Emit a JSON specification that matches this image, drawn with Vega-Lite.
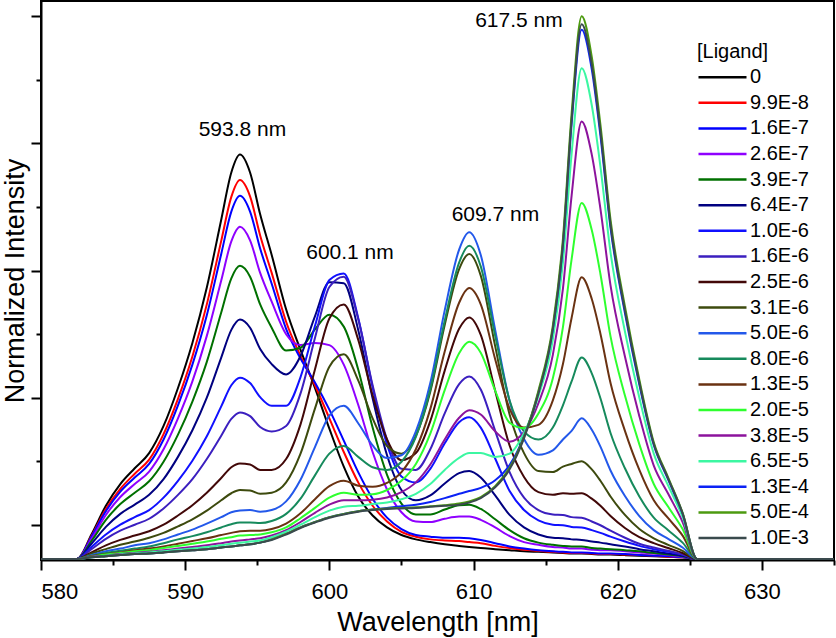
{
  "$schema": "https://vega.github.io/schema/vega-lite/v6.json",
  "width": 793,
  "height": 559,
  "autosize": {"type": "none"},
  "padding": {"left": 41, "top": 1, "right": 2, "bottom": 78},
  "background": "white",
  "config": {
    "font": "Liberation Sans",
    "view": {"stroke": "black", "strokeWidth": 2},
    "axis": {"grid": false, "domainColor": "black", "domainWidth": 2, "tickColor": "black", "tickWidth": 2, "labelColor": "black", "titleColor": "black", "titleFontWeight": "normal"}
  },
  "datasets": {
    "spectra": [
      {"L":"0","nm":580,"v":0},{"L":"0","nm":582.5,"v":0},{"L":"0","nm":583.5,"v":0.045},{"L":"0","nm":584.5,"v":0.098},{"L":"0","nm":585.5,"v":0.138},{"L":"0","nm":586.5,"v":0.167},{"L":"0","nm":587.5,"v":0.195},{"L":"0","nm":588.5,"v":0.245},{"L":"0","nm":589.5,"v":0.315},{"L":"0","nm":590.5,"v":0.398},{"L":"0","nm":591.5,"v":0.5},{"L":"0","nm":592.5,"v":0.625},{"L":"0","nm":593.2,"v":0.712},{"L":"0","nm":593.8,"v":0.745},{"L":"0","nm":594.5,"v":0.712},{"L":"0","nm":595.2,"v":0.635},{"L":"0","nm":596,"v":0.56},{"L":"0","nm":597,"v":0.46},{"L":"0","nm":598,"v":0.385},{"L":"0","nm":599,"v":0.315},{"L":"0","nm":600,"v":0.24},{"L":"0","nm":601,"v":0.17},{"L":"0","nm":602,"v":0.115},{"L":"0","nm":603,"v":0.08},{"L":"0","nm":604,"v":0.058},{"L":"0","nm":605,"v":0.044},{"L":"0","nm":606,"v":0.036},{"L":"0","nm":607,"v":0.031},{"L":"0","nm":608,"v":0.027},{"L":"0","nm":609,"v":0.024},{"L":"0","nm":609.7,"v":0.022},{"L":"0","nm":610.5,"v":0.02},{"L":"0","nm":611.5,"v":0.018},{"L":"0","nm":612.5,"v":0.016},{"L":"0","nm":613.5,"v":0.014},{"L":"0","nm":614.5,"v":0.013},{"L":"0","nm":615.5,"v":0.012},{"L":"0","nm":616.2,"v":0.011},{"L":"0","nm":616.8,"v":0.01},{"L":"0","nm":617.5,"v":0.01},{"L":"0","nm":618.2,"v":0.009},{"L":"0","nm":618.8,"v":0.008},{"L":"0","nm":619.5,"v":0.008},{"L":"0","nm":620.5,"v":0.007},{"L":"0","nm":621.5,"v":0.006},{"L":"0","nm":622.5,"v":0.005},{"L":"0","nm":623.5,"v":0.004},{"L":"0","nm":624.5,"v":0.003},{"L":"0","nm":625.5,"v":0},{"L":"0","nm":635,"v":0},

      {"L":"9.9E-8","nm":580,"v":0},{"L":"9.9E-8","nm":582.5,"v":0},{"L":"9.9E-8","nm":583.5,"v":0.042},{"L":"9.9E-8","nm":584.5,"v":0.092},{"L":"9.9E-8","nm":585.5,"v":0.129},{"L":"9.9E-8","nm":586.5,"v":0.157},{"L":"9.9E-8","nm":587.5,"v":0.183},{"L":"9.9E-8","nm":588.5,"v":0.23},{"L":"9.9E-8","nm":589.5,"v":0.295},{"L":"9.9E-8","nm":590.5,"v":0.373},{"L":"9.9E-8","nm":591.5,"v":0.469},{"L":"9.9E-8","nm":592.5,"v":0.586},{"L":"9.9E-8","nm":593.2,"v":0.667},{"L":"9.9E-8","nm":593.8,"v":0.698},{"L":"9.9E-8","nm":594.5,"v":0.668},{"L":"9.9E-8","nm":595.2,"v":0.596},{"L":"9.9E-8","nm":596,"v":0.527},{"L":"9.9E-8","nm":597,"v":0.437},{"L":"9.9E-8","nm":598,"v":0.374},{"L":"9.9E-8","nm":599,"v":0.32},{"L":"9.9E-8","nm":600,"v":0.259},{"L":"9.9E-8","nm":601,"v":0.197},{"L":"9.9E-8","nm":602,"v":0.141},{"L":"9.9E-8","nm":603,"v":0.098},{"L":"9.9E-8","nm":604,"v":0.069},{"L":"9.9E-8","nm":605,"v":0.05},{"L":"9.9E-8","nm":606,"v":0.041},{"L":"9.9E-8","nm":607,"v":0.036},{"L":"9.9E-8","nm":608,"v":0.034},{"L":"9.9E-8","nm":609,"v":0.033},{"L":"9.9E-8","nm":609.7,"v":0.031},{"L":"9.9E-8","nm":610.5,"v":0.029},{"L":"9.9E-8","nm":611.5,"v":0.024},{"L":"9.9E-8","nm":612.5,"v":0.02},{"L":"9.9E-8","nm":613.5,"v":0.017},{"L":"9.9E-8","nm":614.5,"v":0.015},{"L":"9.9E-8","nm":615.5,"v":0.013},{"L":"9.9E-8","nm":616.2,"v":0.012},{"L":"9.9E-8","nm":616.8,"v":0.011},{"L":"9.9E-8","nm":617.5,"v":0.011},{"L":"9.9E-8","nm":618.2,"v":0.01},{"L":"9.9E-8","nm":618.8,"v":0.009},{"L":"9.9E-8","nm":619.5,"v":0.009},{"L":"9.9E-8","nm":620.5,"v":0.008},{"L":"9.9E-8","nm":621.5,"v":0.007},{"L":"9.9E-8","nm":622.5,"v":0.006},{"L":"9.9E-8","nm":623.5,"v":0.004},{"L":"9.9E-8","nm":624.5,"v":0.003},{"L":"9.9E-8","nm":625.5,"v":0},{"L":"9.9E-8","nm":635,"v":0},

      {"L":"1.6E-7","nm":580,"v":0},{"L":"1.6E-7","nm":582.5,"v":0},{"L":"1.6E-7","nm":583.5,"v":0.041},{"L":"1.6E-7","nm":584.5,"v":0.088},{"L":"1.6E-7","nm":585.5,"v":0.124},{"L":"1.6E-7","nm":586.5,"v":0.15},{"L":"1.6E-7","nm":587.5,"v":0.175},{"L":"1.6E-7","nm":588.5,"v":0.22},{"L":"1.6E-7","nm":589.5,"v":0.283},{"L":"1.6E-7","nm":590.5,"v":0.358},{"L":"1.6E-7","nm":591.5,"v":0.449},{"L":"1.6E-7","nm":592.5,"v":0.562},{"L":"1.6E-7","nm":593.2,"v":0.64},{"L":"1.6E-7","nm":593.8,"v":0.669},{"L":"1.6E-7","nm":594.5,"v":0.64},{"L":"1.6E-7","nm":595.2,"v":0.572},{"L":"1.6E-7","nm":596,"v":0.507},{"L":"1.6E-7","nm":597,"v":0.424},{"L":"1.6E-7","nm":598,"v":0.369},{"L":"1.6E-7","nm":599,"v":0.325},{"L":"1.6E-7","nm":600,"v":0.275},{"L":"1.6E-7","nm":601,"v":0.218},{"L":"1.6E-7","nm":602,"v":0.16},{"L":"1.6E-7","nm":603,"v":0.111},{"L":"1.6E-7","nm":604,"v":0.076},{"L":"1.6E-7","nm":605,"v":0.055},{"L":"1.6E-7","nm":606,"v":0.044},{"L":"1.6E-7","nm":607,"v":0.041},{"L":"1.6E-7","nm":608,"v":0.039},{"L":"1.6E-7","nm":609,"v":0.039},{"L":"1.6E-7","nm":609.7,"v":0.038},{"L":"1.6E-7","nm":610.5,"v":0.035},{"L":"1.6E-7","nm":611.5,"v":0.029},{"L":"1.6E-7","nm":612.5,"v":0.023},{"L":"1.6E-7","nm":613.5,"v":0.019},{"L":"1.6E-7","nm":614.5,"v":0.016},{"L":"1.6E-7","nm":615.5,"v":0.014},{"L":"1.6E-7","nm":616.2,"v":0.013},{"L":"1.6E-7","nm":616.8,"v":0.012},{"L":"1.6E-7","nm":617.5,"v":0.012},{"L":"1.6E-7","nm":618.2,"v":0.011},{"L":"1.6E-7","nm":618.8,"v":0.01},{"L":"1.6E-7","nm":619.5,"v":0.01},{"L":"1.6E-7","nm":620.5,"v":0.009},{"L":"1.6E-7","nm":621.5,"v":0.007},{"L":"1.6E-7","nm":622.5,"v":0.006},{"L":"1.6E-7","nm":623.5,"v":0.005},{"L":"1.6E-7","nm":624.5,"v":0.003},{"L":"1.6E-7","nm":625.5,"v":0},{"L":"1.6E-7","nm":635,"v":0},

      {"L":"2.6E-7","nm":580,"v":0},{"L":"2.6E-7","nm":582.5,"v":0},{"L":"2.6E-7","nm":583.5,"v":0.037},{"L":"2.6E-7","nm":584.5,"v":0.081},{"L":"2.6E-7","nm":585.5,"v":0.114},{"L":"2.6E-7","nm":586.5,"v":0.138},{"L":"2.6E-7","nm":587.5,"v":0.161},{"L":"2.6E-7","nm":588.5,"v":0.202},{"L":"2.6E-7","nm":589.5,"v":0.259},{"L":"2.6E-7","nm":590.5,"v":0.327},{"L":"2.6E-7","nm":591.5,"v":0.411},{"L":"2.6E-7","nm":592.5,"v":0.513},{"L":"2.6E-7","nm":593.2,"v":0.585},{"L":"2.6E-7","nm":593.8,"v":0.612},{"L":"2.6E-7","nm":594.5,"v":0.587},{"L":"2.6E-7","nm":595.2,"v":0.527},{"L":"2.6E-7","nm":596,"v":0.474},{"L":"2.6E-7","nm":597,"v":0.414},{"L":"2.6E-7","nm":598,"v":0.394},{"L":"2.6E-7","nm":599,"v":0.398},{"L":"2.6E-7","nm":600,"v":0.394},{"L":"2.6E-7","nm":601,"v":0.358},{"L":"2.6E-7","nm":602,"v":0.284},{"L":"2.6E-7","nm":603,"v":0.197},{"L":"2.6E-7","nm":604,"v":0.128},{"L":"2.6E-7","nm":605,"v":0.086},{"L":"2.6E-7","nm":606,"v":0.069},{"L":"2.6E-7","nm":607,"v":0.068},{"L":"2.6E-7","nm":608,"v":0.074},{"L":"2.6E-7","nm":609,"v":0.078},{"L":"2.6E-7","nm":609.7,"v":0.078},{"L":"2.6E-7","nm":610.5,"v":0.072},{"L":"2.6E-7","nm":611.5,"v":0.058},{"L":"2.6E-7","nm":612.5,"v":0.042},{"L":"2.6E-7","nm":613.5,"v":0.031},{"L":"2.6E-7","nm":614.5,"v":0.026},{"L":"2.6E-7","nm":615.5,"v":0.022},{"L":"2.6E-7","nm":616.2,"v":0.021},{"L":"2.6E-7","nm":616.8,"v":0.019},{"L":"2.6E-7","nm":617.5,"v":0.019},{"L":"2.6E-7","nm":618.2,"v":0.017},{"L":"2.6E-7","nm":618.8,"v":0.016},{"L":"2.6E-7","nm":619.5,"v":0.016},{"L":"2.6E-7","nm":620.5,"v":0.014},{"L":"2.6E-7","nm":621.5,"v":0.012},{"L":"2.6E-7","nm":622.5,"v":0.01},{"L":"2.6E-7","nm":623.5,"v":0.007},{"L":"2.6E-7","nm":624.5,"v":0.004},{"L":"2.6E-7","nm":625.5,"v":0},{"L":"2.6E-7","nm":635,"v":0},

      {"L":"3.9E-7","nm":580,"v":0},{"L":"3.9E-7","nm":582.5,"v":0},{"L":"3.9E-7","nm":583.5,"v":0.033},{"L":"3.9E-7","nm":584.5,"v":0.072},{"L":"3.9E-7","nm":585.5,"v":0.101},{"L":"3.9E-7","nm":586.5,"v":0.122},{"L":"3.9E-7","nm":587.5,"v":0.143},{"L":"3.9E-7","nm":588.5,"v":0.179},{"L":"3.9E-7","nm":589.5,"v":0.229},{"L":"3.9E-7","nm":590.5,"v":0.29},{"L":"3.9E-7","nm":591.5,"v":0.363},{"L":"3.9E-7","nm":592.5,"v":0.454},{"L":"3.9E-7","nm":593.2,"v":0.517},{"L":"3.9E-7","nm":593.8,"v":0.54},{"L":"3.9E-7","nm":594.5,"v":0.52},{"L":"3.9E-7","nm":595.2,"v":0.469},{"L":"3.9E-7","nm":596,"v":0.426},{"L":"3.9E-7","nm":597,"v":0.384},{"L":"3.9E-7","nm":598,"v":0.389},{"L":"3.9E-7","nm":599,"v":0.423},{"L":"3.9E-7","nm":600,"v":0.45},{"L":"3.9E-7","nm":601,"v":0.428},{"L":"3.9E-7","nm":602,"v":0.349},{"L":"3.9E-7","nm":603,"v":0.242},{"L":"3.9E-7","nm":604,"v":0.155},{"L":"3.9E-7","nm":605,"v":0.102},{"L":"3.9E-7","nm":606,"v":0.082},{"L":"3.9E-7","nm":607,"v":0.082},{"L":"3.9E-7","nm":608,"v":0.091},{"L":"3.9E-7","nm":609,"v":0.099},{"L":"3.9E-7","nm":609.7,"v":0.1},{"L":"3.9E-7","nm":610.5,"v":0.092},{"L":"3.9E-7","nm":611.5,"v":0.073},{"L":"3.9E-7","nm":612.5,"v":0.053},{"L":"3.9E-7","nm":613.5,"v":0.038},{"L":"3.9E-7","nm":614.5,"v":0.03},{"L":"3.9E-7","nm":615.5,"v":0.026},{"L":"3.9E-7","nm":616.2,"v":0.024},{"L":"3.9E-7","nm":616.8,"v":0.023},{"L":"3.9E-7","nm":617.5,"v":0.023},{"L":"3.9E-7","nm":618.2,"v":0.02},{"L":"3.9E-7","nm":618.8,"v":0.019},{"L":"3.9E-7","nm":619.5,"v":0.018},{"L":"3.9E-7","nm":620.5,"v":0.016},{"L":"3.9E-7","nm":621.5,"v":0.014},{"L":"3.9E-7","nm":622.5,"v":0.011},{"L":"3.9E-7","nm":623.5,"v":0.008},{"L":"3.9E-7","nm":624.5,"v":0.005},{"L":"3.9E-7","nm":625.5,"v":0},{"L":"3.9E-7","nm":635,"v":0},

      {"L":"6.4E-7","nm":580,"v":0},{"L":"6.4E-7","nm":582.5,"v":0},{"L":"6.4E-7","nm":583.5,"v":0.028},{"L":"6.4E-7","nm":584.5,"v":0.059},{"L":"6.4E-7","nm":585.5,"v":0.083},{"L":"6.4E-7","nm":586.5,"v":0.1},{"L":"6.4E-7","nm":587.5,"v":0.118},{"L":"6.4E-7","nm":588.5,"v":0.147},{"L":"6.4E-7","nm":589.5,"v":0.188},{"L":"6.4E-7","nm":590.5,"v":0.237},{"L":"6.4E-7","nm":591.5,"v":0.297},{"L":"6.4E-7","nm":592.5,"v":0.371},{"L":"6.4E-7","nm":593.2,"v":0.422},{"L":"6.4E-7","nm":593.8,"v":0.441},{"L":"6.4E-7","nm":594.5,"v":0.426},{"L":"6.4E-7","nm":595.2,"v":0.387},{"L":"6.4E-7","nm":596,"v":0.359},{"L":"6.4E-7","nm":597,"v":0.34},{"L":"6.4E-7","nm":598,"v":0.374},{"L":"6.4E-7","nm":599,"v":0.447},{"L":"6.4E-7","nm":600,"v":0.51},{"L":"6.4E-7","nm":601,"v":0.508},{"L":"6.4E-7","nm":602,"v":0.422},{"L":"6.4E-7","nm":603,"v":0.296},{"L":"6.4E-7","nm":604,"v":0.191},{"L":"6.4E-7","nm":605,"v":0.127},{"L":"6.4E-7","nm":606,"v":0.108},{"L":"6.4E-7","nm":607,"v":0.117},{"L":"6.4E-7","nm":608,"v":0.139},{"L":"6.4E-7","nm":609,"v":0.158},{"L":"6.4E-7","nm":609.7,"v":0.162},{"L":"6.4E-7","nm":610.5,"v":0.15},{"L":"6.4E-7","nm":611.5,"v":0.117},{"L":"6.4E-7","nm":612.5,"v":0.081},{"L":"6.4E-7","nm":613.5,"v":0.058},{"L":"6.4E-7","nm":614.5,"v":0.045},{"L":"6.4E-7","nm":615.5,"v":0.039},{"L":"6.4E-7","nm":616.2,"v":0.038},{"L":"6.4E-7","nm":616.8,"v":0.036},{"L":"6.4E-7","nm":617.5,"v":0.035},{"L":"6.4E-7","nm":618.2,"v":0.032},{"L":"6.4E-7","nm":618.8,"v":0.03},{"L":"6.4E-7","nm":619.5,"v":0.027},{"L":"6.4E-7","nm":620.5,"v":0.023},{"L":"6.4E-7","nm":621.5,"v":0.018},{"L":"6.4E-7","nm":622.5,"v":0.014},{"L":"6.4E-7","nm":623.5,"v":0.01},{"L":"6.4E-7","nm":624.5,"v":0.006},{"L":"6.4E-7","nm":625.5,"v":0},{"L":"6.4E-7","nm":635,"v":0},

      {"L":"1.0E-6","nm":580,"v":0},{"L":"1.0E-6","nm":582.5,"v":0},{"L":"1.0E-6","nm":583.5,"v":0.022},{"L":"1.0E-6","nm":584.5,"v":0.045},{"L":"1.0E-6","nm":585.5,"v":0.063},{"L":"1.0E-6","nm":586.5,"v":0.077},{"L":"1.0E-6","nm":587.5,"v":0.09},{"L":"1.0E-6","nm":588.5,"v":0.113},{"L":"1.0E-6","nm":589.5,"v":0.144},{"L":"1.0E-6","nm":590.5,"v":0.181},{"L":"1.0E-6","nm":591.5,"v":0.226},{"L":"1.0E-6","nm":592.5,"v":0.281},{"L":"1.0E-6","nm":593.2,"v":0.32},{"L":"1.0E-6","nm":593.8,"v":0.334},{"L":"1.0E-6","nm":594.5,"v":0.324},{"L":"1.0E-6","nm":595.2,"v":0.298},{"L":"1.0E-6","nm":596,"v":0.282},{"L":"1.0E-6","nm":597,"v":0.282},{"L":"1.0E-6","nm":598,"v":0.335},{"L":"1.0E-6","nm":599,"v":0.429},{"L":"1.0E-6","nm":600,"v":0.514},{"L":"1.0E-6","nm":601,"v":0.526},{"L":"1.0E-6","nm":602,"v":0.444},{"L":"1.0E-6","nm":603,"v":0.316},{"L":"1.0E-6","nm":604,"v":0.211},{"L":"1.0E-6","nm":605,"v":0.152},{"L":"1.0E-6","nm":606,"v":0.141},{"L":"1.0E-6","nm":607,"v":0.166},{"L":"1.0E-6","nm":608,"v":0.213},{"L":"1.0E-6","nm":609,"v":0.252},{"L":"1.0E-6","nm":609.7,"v":0.261},{"L":"1.0E-6","nm":610.5,"v":0.242},{"L":"1.0E-6","nm":611.5,"v":0.185},{"L":"1.0E-6","nm":612.5,"v":0.125},{"L":"1.0E-6","nm":613.5,"v":0.09},{"L":"1.0E-6","nm":614.5,"v":0.071},{"L":"1.0E-6","nm":615.5,"v":0.063},{"L":"1.0E-6","nm":616.2,"v":0.062},{"L":"1.0E-6","nm":616.8,"v":0.059},{"L":"1.0E-6","nm":617.5,"v":0.058},{"L":"1.0E-6","nm":618.2,"v":0.053},{"L":"1.0E-6","nm":618.8,"v":0.048},{"L":"1.0E-6","nm":619.5,"v":0.041},{"L":"1.0E-6","nm":620.5,"v":0.032},{"L":"1.0E-6","nm":621.5,"v":0.024},{"L":"1.0E-6","nm":622.5,"v":0.018},{"L":"1.0E-6","nm":623.5,"v":0.013},{"L":"1.0E-6","nm":624.5,"v":0.008},{"L":"1.0E-6","nm":625.5,"v":0},{"L":"1.0E-6","nm":635,"v":0},

      {"L":"1.6E-6","nm":580,"v":0},{"L":"1.6E-6","nm":582.5,"v":0},{"L":"1.6E-6","nm":583.5,"v":0.018},{"L":"1.6E-6","nm":584.5,"v":0.037},{"L":"1.6E-6","nm":585.5,"v":0.052},{"L":"1.6E-6","nm":586.5,"v":0.063},{"L":"1.6E-6","nm":587.5,"v":0.074},{"L":"1.6E-6","nm":588.5,"v":0.093},{"L":"1.6E-6","nm":589.5,"v":0.118},{"L":"1.6E-6","nm":590.5,"v":0.147},{"L":"1.6E-6","nm":591.5,"v":0.184},{"L":"1.6E-6","nm":592.5,"v":0.227},{"L":"1.6E-6","nm":593.2,"v":0.258},{"L":"1.6E-6","nm":593.8,"v":0.27},{"L":"1.6E-6","nm":594.5,"v":0.263},{"L":"1.6E-6","nm":595.2,"v":0.243},{"L":"1.6E-6","nm":596,"v":0.235},{"L":"1.6E-6","nm":597,"v":0.245},{"L":"1.6E-6","nm":598,"v":0.305},{"L":"1.6E-6","nm":599,"v":0.407},{"L":"1.6E-6","nm":600,"v":0.501},{"L":"1.6E-6","nm":601,"v":0.52},{"L":"1.6E-6","nm":602,"v":0.442},{"L":"1.6E-6","nm":603,"v":0.32},{"L":"1.6E-6","nm":604,"v":0.22},{"L":"1.6E-6","nm":605,"v":0.166},{"L":"1.6E-6","nm":606,"v":0.164},{"L":"1.6E-6","nm":607,"v":0.202},{"L":"1.6E-6","nm":608,"v":0.268},{"L":"1.6E-6","nm":609,"v":0.322},{"L":"1.6E-6","nm":609.7,"v":0.336},{"L":"1.6E-6","nm":610.5,"v":0.312},{"L":"1.6E-6","nm":611.5,"v":0.236},{"L":"1.6E-6","nm":612.5,"v":0.16},{"L":"1.6E-6","nm":613.5,"v":0.113},{"L":"1.6E-6","nm":614.5,"v":0.09},{"L":"1.6E-6","nm":615.5,"v":0.082},{"L":"1.6E-6","nm":616.2,"v":0.081},{"L":"1.6E-6","nm":616.8,"v":0.077},{"L":"1.6E-6","nm":617.5,"v":0.076},{"L":"1.6E-6","nm":618.2,"v":0.069},{"L":"1.6E-6","nm":618.8,"v":0.062},{"L":"1.6E-6","nm":619.5,"v":0.052},{"L":"1.6E-6","nm":620.5,"v":0.039},{"L":"1.6E-6","nm":621.5,"v":0.028},{"L":"1.6E-6","nm":622.5,"v":0.021},{"L":"1.6E-6","nm":623.5,"v":0.015},{"L":"1.6E-6","nm":624.5,"v":0.008},{"L":"1.6E-6","nm":625.5,"v":0},{"L":"1.6E-6","nm":635,"v":0},

      {"L":"2.5E-6","nm":580,"v":0},{"L":"2.5E-6","nm":582.5,"v":0},{"L":"2.5E-6","nm":583.5,"v":0.012},{"L":"2.5E-6","nm":584.5,"v":0.025},{"L":"2.5E-6","nm":585.5,"v":0.035},{"L":"2.5E-6","nm":586.5,"v":0.043},{"L":"2.5E-6","nm":587.5,"v":0.051},{"L":"2.5E-6","nm":588.5,"v":0.063},{"L":"2.5E-6","nm":589.5,"v":0.08},{"L":"2.5E-6","nm":590.5,"v":0.099},{"L":"2.5E-6","nm":591.5,"v":0.122},{"L":"2.5E-6","nm":592.5,"v":0.149},{"L":"2.5E-6","nm":593.2,"v":0.169},{"L":"2.5E-6","nm":593.8,"v":0.176},{"L":"2.5E-6","nm":594.5,"v":0.174},{"L":"2.5E-6","nm":595.2,"v":0.164},{"L":"2.5E-6","nm":596,"v":0.164},{"L":"2.5E-6","nm":597,"v":0.184},{"L":"2.5E-6","nm":598,"v":0.248},{"L":"2.5E-6","nm":599,"v":0.349},{"L":"2.5E-6","nm":600,"v":0.443},{"L":"2.5E-6","nm":601,"v":0.469},{"L":"2.5E-6","nm":602,"v":0.404},{"L":"2.5E-6","nm":603,"v":0.301},{"L":"2.5E-6","nm":604,"v":0.22},{"L":"2.5E-6","nm":605,"v":0.182},{"L":"2.5E-6","nm":606,"v":0.195},{"L":"2.5E-6","nm":607,"v":0.254},{"L":"2.5E-6","nm":608,"v":0.347},{"L":"2.5E-6","nm":609,"v":0.424},{"L":"2.5E-6","nm":609.7,"v":0.445},{"L":"2.5E-6","nm":610.5,"v":0.413},{"L":"2.5E-6","nm":611.5,"v":0.31},{"L":"2.5E-6","nm":612.5,"v":0.209},{"L":"2.5E-6","nm":613.5,"v":0.151},{"L":"2.5E-6","nm":614.5,"v":0.123},{"L":"2.5E-6","nm":615.5,"v":0.118},{"L":"2.5E-6","nm":616.2,"v":0.121},{"L":"2.5E-6","nm":616.8,"v":0.12},{"L":"2.5E-6","nm":617.5,"v":0.121},{"L":"2.5E-6","nm":618.2,"v":0.111},{"L":"2.5E-6","nm":618.8,"v":0.098},{"L":"2.5E-6","nm":619.5,"v":0.079},{"L":"2.5E-6","nm":620.5,"v":0.057},{"L":"2.5E-6","nm":621.5,"v":0.04},{"L":"2.5E-6","nm":622.5,"v":0.029},{"L":"2.5E-6","nm":623.5,"v":0.02},{"L":"2.5E-6","nm":624.5,"v":0.011},{"L":"2.5E-6","nm":625.5,"v":0},{"L":"2.5E-6","nm":635,"v":0},

      {"L":"3.1E-6","nm":580,"v":0},{"L":"3.1E-6","nm":582.5,"v":0},{"L":"3.1E-6","nm":583.5,"v":0.01},{"L":"3.1E-6","nm":584.5,"v":0.018},{"L":"3.1E-6","nm":585.5,"v":0.026},{"L":"3.1E-6","nm":586.5,"v":0.032},{"L":"3.1E-6","nm":587.5,"v":0.039},{"L":"3.1E-6","nm":588.5,"v":0.048},{"L":"3.1E-6","nm":589.5,"v":0.06},{"L":"3.1E-6","nm":590.5,"v":0.073},{"L":"3.1E-6","nm":591.5,"v":0.089},{"L":"3.1E-6","nm":592.5,"v":0.108},{"L":"3.1E-6","nm":593.2,"v":0.121},{"L":"3.1E-6","nm":593.8,"v":0.127},{"L":"3.1E-6","nm":594.5,"v":0.126},{"L":"3.1E-6","nm":595.2,"v":0.12},{"L":"3.1E-6","nm":596,"v":0.122},{"L":"3.1E-6","nm":597,"v":0.141},{"L":"3.1E-6","nm":598,"v":0.194},{"L":"3.1E-6","nm":599,"v":0.277},{"L":"3.1E-6","nm":600,"v":0.354},{"L":"3.1E-6","nm":601,"v":0.377},{"L":"3.1E-6","nm":602,"v":0.329},{"L":"3.1E-6","nm":603,"v":0.259},{"L":"3.1E-6","nm":604,"v":0.208},{"L":"3.1E-6","nm":605,"v":0.194},{"L":"3.1E-6","nm":606,"v":0.227},{"L":"3.1E-6","nm":607,"v":0.308},{"L":"3.1E-6","nm":608,"v":0.431},{"L":"3.1E-6","nm":609,"v":0.534},{"L":"3.1E-6","nm":609.7,"v":0.562},{"L":"3.1E-6","nm":610.5,"v":0.522},{"L":"3.1E-6","nm":611.5,"v":0.392},{"L":"3.1E-6","nm":612.5,"v":0.266},{"L":"3.1E-6","nm":613.5,"v":0.195},{"L":"3.1E-6","nm":614.5,"v":0.162},{"L":"3.1E-6","nm":615.5,"v":0.16},{"L":"3.1E-6","nm":616.2,"v":0.17},{"L":"3.1E-6","nm":616.8,"v":0.175},{"L":"3.1E-6","nm":617.5,"v":0.18},{"L":"3.1E-6","nm":618.2,"v":0.165},{"L":"3.1E-6","nm":618.8,"v":0.144},{"L":"3.1E-6","nm":619.5,"v":0.115},{"L":"3.1E-6","nm":620.5,"v":0.081},{"L":"3.1E-6","nm":621.5,"v":0.055},{"L":"3.1E-6","nm":622.5,"v":0.038},{"L":"3.1E-6","nm":623.5,"v":0.026},{"L":"3.1E-6","nm":624.5,"v":0.015},{"L":"3.1E-6","nm":625.5,"v":0},{"L":"3.1E-6","nm":635,"v":0},

      {"L":"5.0E-6","nm":580,"v":0},{"L":"5.0E-6","nm":582.5,"v":0},{"L":"5.0E-6","nm":583.5,"v":0.007},{"L":"5.0E-6","nm":584.5,"v":0.014},{"L":"5.0E-6","nm":585.5,"v":0.019},{"L":"5.0E-6","nm":586.5,"v":0.025},{"L":"5.0E-6","nm":587.5,"v":0.029},{"L":"5.0E-6","nm":588.5,"v":0.036},{"L":"5.0E-6","nm":589.5,"v":0.045},{"L":"5.0E-6","nm":590.5,"v":0.054},{"L":"5.0E-6","nm":591.5,"v":0.065},{"L":"5.0E-6","nm":592.5,"v":0.077},{"L":"5.0E-6","nm":593.2,"v":0.086},{"L":"5.0E-6","nm":593.8,"v":0.089},{"L":"5.0E-6","nm":594.5,"v":0.09},{"L":"5.0E-6","nm":595.2,"v":0.087},{"L":"5.0E-6","nm":596,"v":0.09},{"L":"5.0E-6","nm":597,"v":0.106},{"L":"5.0E-6","nm":598,"v":0.146},{"L":"5.0E-6","nm":599,"v":0.206},{"L":"5.0E-6","nm":600,"v":0.264},{"L":"5.0E-6","nm":601,"v":0.282},{"L":"5.0E-6","nm":602,"v":0.25},{"L":"5.0E-6","nm":603,"v":0.209},{"L":"5.0E-6","nm":604,"v":0.186},{"L":"5.0E-6","nm":605,"v":0.191},{"L":"5.0E-6","nm":606,"v":0.235},{"L":"5.0E-6","nm":607,"v":0.324},{"L":"5.0E-6","nm":608,"v":0.458},{"L":"5.0E-6","nm":609,"v":0.57},{"L":"5.0E-6","nm":609.7,"v":0.602},{"L":"5.0E-6","nm":610.5,"v":0.56},{"L":"5.0E-6","nm":611.5,"v":0.422},{"L":"5.0E-6","nm":612.5,"v":0.291},{"L":"5.0E-6","nm":613.5,"v":0.221},{"L":"5.0E-6","nm":614.5,"v":0.192},{"L":"5.0E-6","nm":615.5,"v":0.2},{"L":"5.0E-6","nm":616.2,"v":0.22},{"L":"5.0E-6","nm":616.8,"v":0.236},{"L":"5.0E-6","nm":617.5,"v":0.259},{"L":"5.0E-6","nm":618.2,"v":0.238},{"L":"5.0E-6","nm":618.8,"v":0.207},{"L":"5.0E-6","nm":619.5,"v":0.163},{"L":"5.0E-6","nm":620.5,"v":0.116},{"L":"5.0E-6","nm":621.5,"v":0.079},{"L":"5.0E-6","nm":622.5,"v":0.053},{"L":"5.0E-6","nm":623.5,"v":0.037},{"L":"5.0E-6","nm":624.5,"v":0.021},{"L":"5.0E-6","nm":625.5,"v":0},{"L":"5.0E-6","nm":635,"v":0},

      {"L":"8.0E-6","nm":580,"v":0},{"L":"8.0E-6","nm":582.5,"v":0},{"L":"8.0E-6","nm":583.5,"v":0.006},{"L":"8.0E-6","nm":584.5,"v":0.011},{"L":"8.0E-6","nm":585.5,"v":0.015},{"L":"8.0E-6","nm":586.5,"v":0.019},{"L":"8.0E-6","nm":587.5,"v":0.023},{"L":"8.0E-6","nm":588.5,"v":0.029},{"L":"8.0E-6","nm":589.5,"v":0.036},{"L":"8.0E-6","nm":590.5,"v":0.042},{"L":"8.0E-6","nm":591.5,"v":0.049},{"L":"8.0E-6","nm":592.5,"v":0.058},{"L":"8.0E-6","nm":593.2,"v":0.064},{"L":"8.0E-6","nm":593.8,"v":0.067},{"L":"8.0E-6","nm":594.5,"v":0.067},{"L":"8.0E-6","nm":595.2,"v":0.066},{"L":"8.0E-6","nm":596,"v":0.07},{"L":"8.0E-6","nm":597,"v":0.083},{"L":"8.0E-6","nm":598,"v":0.111},{"L":"8.0E-6","nm":599,"v":0.154},{"L":"8.0E-6","nm":600,"v":0.194},{"L":"8.0E-6","nm":601,"v":0.208},{"L":"8.0E-6","nm":602,"v":0.188},{"L":"8.0E-6","nm":603,"v":0.169},{"L":"8.0E-6","nm":604,"v":0.164},{"L":"8.0E-6","nm":605,"v":0.179},{"L":"8.0E-6","nm":606,"v":0.225},{"L":"8.0E-6","nm":607,"v":0.312},{"L":"8.0E-6","nm":608,"v":0.439},{"L":"8.0E-6","nm":609,"v":0.546},{"L":"8.0E-6","nm":609.7,"v":0.577},{"L":"8.0E-6","nm":610.5,"v":0.539},{"L":"8.0E-6","nm":611.5,"v":0.411},{"L":"8.0E-6","nm":612.5,"v":0.292},{"L":"8.0E-6","nm":613.5,"v":0.235},{"L":"8.0E-6","nm":614.5,"v":0.22},{"L":"8.0E-6","nm":615.5,"v":0.242},{"L":"8.0E-6","nm":616.2,"v":0.283},{"L":"8.0E-6","nm":616.8,"v":0.327},{"L":"8.0E-6","nm":617.5,"v":0.371},{"L":"8.0E-6","nm":618.2,"v":0.342},{"L":"8.0E-6","nm":618.8,"v":0.296},{"L":"8.0E-6","nm":619.5,"v":0.232},{"L":"8.0E-6","nm":620.5,"v":0.167},{"L":"8.0E-6","nm":621.5,"v":0.115},{"L":"8.0E-6","nm":622.5,"v":0.076},{"L":"8.0E-6","nm":623.5,"v":0.053},{"L":"8.0E-6","nm":624.5,"v":0.03},{"L":"8.0E-6","nm":625.5,"v":0},{"L":"8.0E-6","nm":635,"v":0},

      {"L":"1.3E-5","nm":580,"v":0},{"L":"1.3E-5","nm":582.5,"v":0},{"L":"1.3E-5","nm":583.5,"v":0.005},{"L":"1.3E-5","nm":584.5,"v":0.009},{"L":"1.3E-5","nm":585.5,"v":0.012},{"L":"1.3E-5","nm":586.5,"v":0.016},{"L":"1.3E-5","nm":587.5,"v":0.019},{"L":"1.3E-5","nm":588.5,"v":0.023},{"L":"1.3E-5","nm":589.5,"v":0.028},{"L":"1.3E-5","nm":590.5,"v":0.033},{"L":"1.3E-5","nm":591.5,"v":0.038},{"L":"1.3E-5","nm":592.5,"v":0.044},{"L":"1.3E-5","nm":593.2,"v":0.048},{"L":"1.3E-5","nm":593.8,"v":0.051},{"L":"1.3E-5","nm":594.5,"v":0.052},{"L":"1.3E-5","nm":595.2,"v":0.052},{"L":"1.3E-5","nm":596,"v":0.055},{"L":"1.3E-5","nm":597,"v":0.065},{"L":"1.3E-5","nm":598,"v":0.084},{"L":"1.3E-5","nm":599,"v":0.11},{"L":"1.3E-5","nm":600,"v":0.134},{"L":"1.3E-5","nm":601,"v":0.144},{"L":"1.3E-5","nm":602,"v":0.135},{"L":"1.3E-5","nm":603,"v":0.133},{"L":"1.3E-5","nm":604,"v":0.14},{"L":"1.3E-5","nm":605,"v":0.16},{"L":"1.3E-5","nm":606,"v":0.202},{"L":"1.3E-5","nm":607,"v":0.276},{"L":"1.3E-5","nm":608,"v":0.382},{"L":"1.3E-5","nm":609,"v":0.472},{"L":"1.3E-5","nm":609.7,"v":0.499},{"L":"1.3E-5","nm":610.5,"v":0.469},{"L":"1.3E-5","nm":611.5,"v":0.368},{"L":"1.3E-5","nm":612.5,"v":0.277},{"L":"1.3E-5","nm":613.5,"v":0.242},{"L":"1.3E-5","nm":614.5,"v":0.247},{"L":"1.3E-5","nm":615.5,"v":0.292},{"L":"1.3E-5","nm":616.2,"v":0.359},{"L":"1.3E-5","nm":616.8,"v":0.444},{"L":"1.3E-5","nm":617.5,"v":0.519},{"L":"1.3E-5","nm":618.2,"v":0.479},{"L":"1.3E-5","nm":618.8,"v":0.415},{"L":"1.3E-5","nm":619.5,"v":0.324},{"L":"1.3E-5","nm":620.5,"v":0.236},{"L":"1.3E-5","nm":621.5,"v":0.164},{"L":"1.3E-5","nm":622.5,"v":0.108},{"L":"1.3E-5","nm":623.5,"v":0.075},{"L":"1.3E-5","nm":624.5,"v":0.043},{"L":"1.3E-5","nm":625.5,"v":0},{"L":"1.3E-5","nm":635,"v":0},

      {"L":"2.0E-5","nm":580,"v":0},{"L":"2.0E-5","nm":582.5,"v":0},{"L":"2.0E-5","nm":583.5,"v":0.004},{"L":"2.0E-5","nm":584.5,"v":0.008},{"L":"2.0E-5","nm":585.5,"v":0.011},{"L":"2.0E-5","nm":586.5,"v":0.014},{"L":"2.0E-5","nm":587.5,"v":0.016},{"L":"2.0E-5","nm":588.5,"v":0.02},{"L":"2.0E-5","nm":589.5,"v":0.024},{"L":"2.0E-5","nm":590.5,"v":0.028},{"L":"2.0E-5","nm":591.5,"v":0.032},{"L":"2.0E-5","nm":592.5,"v":0.037},{"L":"2.0E-5","nm":593.2,"v":0.04},{"L":"2.0E-5","nm":593.8,"v":0.043},{"L":"2.0E-5","nm":594.5,"v":0.044},{"L":"2.0E-5","nm":595.2,"v":0.045},{"L":"2.0E-5","nm":596,"v":0.049},{"L":"2.0E-5","nm":597,"v":0.058},{"L":"2.0E-5","nm":598,"v":0.075},{"L":"2.0E-5","nm":599,"v":0.094},{"L":"2.0E-5","nm":600,"v":0.113},{"L":"2.0E-5","nm":601,"v":0.122},{"L":"2.0E-5","nm":602,"v":0.118},{"L":"2.0E-5","nm":603,"v":0.119},{"L":"2.0E-5","nm":604,"v":0.127},{"L":"2.0E-5","nm":605,"v":0.144},{"L":"2.0E-5","nm":606,"v":0.175},{"L":"2.0E-5","nm":607,"v":0.231},{"L":"2.0E-5","nm":608,"v":0.311},{"L":"2.0E-5","nm":609,"v":0.379},{"L":"2.0E-5","nm":609.7,"v":0.4},{"L":"2.0E-5","nm":610.5,"v":0.38},{"L":"2.0E-5","nm":611.5,"v":0.31},{"L":"2.0E-5","nm":612.5,"v":0.251},{"L":"2.0E-5","nm":613.5,"v":0.241},{"L":"2.0E-5","nm":614.5,"v":0.268},{"L":"2.0E-5","nm":615.5,"v":0.333},{"L":"2.0E-5","nm":616.2,"v":0.427},{"L":"2.0E-5","nm":616.8,"v":0.552},{"L":"2.0E-5","nm":617.5,"v":0.656},{"L":"2.0E-5","nm":618.2,"v":0.606},{"L":"2.0E-5","nm":618.8,"v":0.525},{"L":"2.0E-5","nm":619.5,"v":0.41},{"L":"2.0E-5","nm":620.5,"v":0.301},{"L":"2.0E-5","nm":621.5,"v":0.211},{"L":"2.0E-5","nm":622.5,"v":0.138},{"L":"2.0E-5","nm":623.5,"v":0.096},{"L":"2.0E-5","nm":624.5,"v":0.055},{"L":"2.0E-5","nm":625.5,"v":0},{"L":"2.0E-5","nm":635,"v":0},

      {"L":"3.8E-5","nm":580,"v":0},{"L":"3.8E-5","nm":582.5,"v":0},{"L":"3.8E-5","nm":583.5,"v":0.004},{"L":"3.8E-5","nm":584.5,"v":0.006},{"L":"3.8E-5","nm":585.5,"v":0.009},{"L":"3.8E-5","nm":586.5,"v":0.011},{"L":"3.8E-5","nm":587.5,"v":0.013},{"L":"3.8E-5","nm":588.5,"v":0.016},{"L":"3.8E-5","nm":589.5,"v":0.019},{"L":"3.8E-5","nm":590.5,"v":0.022},{"L":"3.8E-5","nm":591.5,"v":0.025},{"L":"3.8E-5","nm":592.5,"v":0.029},{"L":"3.8E-5","nm":593.2,"v":0.032},{"L":"3.8E-5","nm":593.8,"v":0.034},{"L":"3.8E-5","nm":594.5,"v":0.036},{"L":"3.8E-5","nm":595.2,"v":0.038},{"L":"3.8E-5","nm":596,"v":0.043},{"L":"3.8E-5","nm":597,"v":0.053},{"L":"3.8E-5","nm":598,"v":0.068},{"L":"3.8E-5","nm":599,"v":0.085},{"L":"3.8E-5","nm":600,"v":0.1},{"L":"3.8E-5","nm":601,"v":0.108},{"L":"3.8E-5","nm":602,"v":0.108},{"L":"3.8E-5","nm":603,"v":0.109},{"L":"3.8E-5","nm":604,"v":0.113},{"L":"3.8E-5","nm":605,"v":0.123},{"L":"3.8E-5","nm":606,"v":0.141},{"L":"3.8E-5","nm":607,"v":0.174},{"L":"3.8E-5","nm":608,"v":0.22},{"L":"3.8E-5","nm":609,"v":0.26},{"L":"3.8E-5","nm":609.7,"v":0.274},{"L":"3.8E-5","nm":610.5,"v":0.266},{"L":"3.8E-5","nm":611.5,"v":0.235},{"L":"3.8E-5","nm":612.5,"v":0.216},{"L":"3.8E-5","nm":613.5,"v":0.234},{"L":"3.8E-5","nm":614.5,"v":0.287},{"L":"3.8E-5","nm":615.5,"v":0.376},{"L":"3.8E-5","nm":616.2,"v":0.498},{"L":"3.8E-5","nm":616.8,"v":0.669},{"L":"3.8E-5","nm":617.5,"v":0.806},{"L":"3.8E-5","nm":618.2,"v":0.745},{"L":"3.8E-5","nm":618.8,"v":0.645},{"L":"3.8E-5","nm":619.5,"v":0.504},{"L":"3.8E-5","nm":620.5,"v":0.373},{"L":"3.8E-5","nm":621.5,"v":0.263},{"L":"3.8E-5","nm":622.5,"v":0.172},{"L":"3.8E-5","nm":623.5,"v":0.12},{"L":"3.8E-5","nm":624.5,"v":0.068},{"L":"3.8E-5","nm":625.5,"v":0},{"L":"3.8E-5","nm":635,"v":0},

      {"L":"6.5E-5","nm":580,"v":0},{"L":"6.5E-5","nm":582.5,"v":0},{"L":"6.5E-5","nm":583.5,"v":0.003},{"L":"6.5E-5","nm":584.5,"v":0.006},{"L":"6.5E-5","nm":585.5,"v":0.008},{"L":"6.5E-5","nm":586.5,"v":0.01},{"L":"6.5E-5","nm":587.5,"v":0.012},{"L":"6.5E-5","nm":588.5,"v":0.014},{"L":"6.5E-5","nm":589.5,"v":0.017},{"L":"6.5E-5","nm":590.5,"v":0.019},{"L":"6.5E-5","nm":591.5,"v":0.022},{"L":"6.5E-5","nm":592.5,"v":0.025},{"L":"6.5E-5","nm":593.2,"v":0.028},{"L":"6.5E-5","nm":593.8,"v":0.03},{"L":"6.5E-5","nm":594.5,"v":0.032},{"L":"6.5E-5","nm":595.2,"v":0.034},{"L":"6.5E-5","nm":596,"v":0.04},{"L":"6.5E-5","nm":597,"v":0.05},{"L":"6.5E-5","nm":598,"v":0.063},{"L":"6.5E-5","nm":599,"v":0.077},{"L":"6.5E-5","nm":600,"v":0.089},{"L":"6.5E-5","nm":601,"v":0.096},{"L":"6.5E-5","nm":602,"v":0.098},{"L":"6.5E-5","nm":603,"v":0.101},{"L":"6.5E-5","nm":604,"v":0.104},{"L":"6.5E-5","nm":605,"v":0.11},{"L":"6.5E-5","nm":606,"v":0.12},{"L":"6.5E-5","nm":607,"v":0.138},{"L":"6.5E-5","nm":608,"v":0.164},{"L":"6.5E-5","nm":609,"v":0.186},{"L":"6.5E-5","nm":609.7,"v":0.195},{"L":"6.5E-5","nm":610.5,"v":0.195},{"L":"6.5E-5","nm":611.5,"v":0.188},{"L":"6.5E-5","nm":612.5,"v":0.194},{"L":"6.5E-5","nm":613.5,"v":0.232},{"L":"6.5E-5","nm":614.5,"v":0.3},{"L":"6.5E-5","nm":615.5,"v":0.404},{"L":"6.5E-5","nm":616.2,"v":0.546},{"L":"6.5E-5","nm":616.8,"v":0.746},{"L":"6.5E-5","nm":617.5,"v":0.904},{"L":"6.5E-5","nm":618.2,"v":0.836},{"L":"6.5E-5","nm":618.8,"v":0.723},{"L":"6.5E-5","nm":619.5,"v":0.565},{"L":"6.5E-5","nm":620.5,"v":0.419},{"L":"6.5E-5","nm":621.5,"v":0.297},{"L":"6.5E-5","nm":622.5,"v":0.194},{"L":"6.5E-5","nm":623.5,"v":0.135},{"L":"6.5E-5","nm":624.5,"v":0.077},{"L":"6.5E-5","nm":625.5,"v":0},{"L":"6.5E-5","nm":635,"v":0},

      {"L":"1.3E-4","nm":580,"v":0},{"L":"1.3E-4","nm":582.5,"v":0},{"L":"1.3E-4","nm":583.5,"v":0.003},{"L":"1.3E-4","nm":584.5,"v":0.005},{"L":"1.3E-4","nm":585.5,"v":0.007},{"L":"1.3E-4","nm":586.5,"v":0.009},{"L":"1.3E-4","nm":587.5,"v":0.01},{"L":"1.3E-4","nm":588.5,"v":0.012},{"L":"1.3E-4","nm":589.5,"v":0.014},{"L":"1.3E-4","nm":590.5,"v":0.016},{"L":"1.3E-4","nm":591.5,"v":0.018},{"L":"1.3E-4","nm":592.5,"v":0.021},{"L":"1.3E-4","nm":593.2,"v":0.023},{"L":"1.3E-4","nm":593.8,"v":0.025},{"L":"1.3E-4","nm":594.5,"v":0.027},{"L":"1.3E-4","nm":595.2,"v":0.03},{"L":"1.3E-4","nm":596,"v":0.036},{"L":"1.3E-4","nm":597,"v":0.046},{"L":"1.3E-4","nm":598,"v":0.058},{"L":"1.3E-4","nm":599,"v":0.068},{"L":"1.3E-4","nm":600,"v":0.077},{"L":"1.3E-4","nm":601,"v":0.083},{"L":"1.3E-4","nm":602,"v":0.088},{"L":"1.3E-4","nm":603,"v":0.091},{"L":"1.3E-4","nm":604,"v":0.094},{"L":"1.3E-4","nm":605,"v":0.097},{"L":"1.3E-4","nm":606,"v":0.1},{"L":"1.3E-4","nm":607,"v":0.105},{"L":"1.3E-4","nm":608,"v":0.112},{"L":"1.3E-4","nm":609,"v":0.12},{"L":"1.3E-4","nm":609.7,"v":0.125},{"L":"1.3E-4","nm":610.5,"v":0.131},{"L":"1.3E-4","nm":611.5,"v":0.145},{"L":"1.3E-4","nm":612.5,"v":0.173},{"L":"1.3E-4","nm":613.5,"v":0.226},{"L":"1.3E-4","nm":614.5,"v":0.307},{"L":"1.3E-4","nm":615.5,"v":0.423},{"L":"1.3E-4","nm":616.2,"v":0.578},{"L":"1.3E-4","nm":616.8,"v":0.801},{"L":"1.3E-4","nm":617.5,"v":0.975},{"L":"1.3E-4","nm":618.2,"v":0.902},{"L":"1.3E-4","nm":618.8,"v":0.78},{"L":"1.3E-4","nm":619.5,"v":0.61},{"L":"1.3E-4","nm":620.5,"v":0.453},{"L":"1.3E-4","nm":621.5,"v":0.321},{"L":"1.3E-4","nm":622.5,"v":0.21},{"L":"1.3E-4","nm":623.5,"v":0.146},{"L":"1.3E-4","nm":624.5,"v":0.083},{"L":"1.3E-4","nm":625.5,"v":0},{"L":"1.3E-4","nm":635,"v":0},

      {"L":"5.0E-4","nm":580,"v":0},{"L":"5.0E-4","nm":582.5,"v":0},{"L":"5.0E-4","nm":583.5,"v":0.003},{"L":"5.0E-4","nm":584.5,"v":0.005},{"L":"5.0E-4","nm":585.5,"v":0.007},{"L":"5.0E-4","nm":586.5,"v":0.009},{"L":"5.0E-4","nm":587.5,"v":0.01},{"L":"5.0E-4","nm":588.5,"v":0.012},{"L":"5.0E-4","nm":589.5,"v":0.014},{"L":"5.0E-4","nm":590.5,"v":0.016},{"L":"5.0E-4","nm":591.5,"v":0.018},{"L":"5.0E-4","nm":592.5,"v":0.021},{"L":"5.0E-4","nm":593.2,"v":0.023},{"L":"5.0E-4","nm":593.8,"v":0.025},{"L":"5.0E-4","nm":594.5,"v":0.027},{"L":"5.0E-4","nm":595.2,"v":0.03},{"L":"5.0E-4","nm":596,"v":0.036},{"L":"5.0E-4","nm":597,"v":0.046},{"L":"5.0E-4","nm":598,"v":0.058},{"L":"5.0E-4","nm":599,"v":0.068},{"L":"5.0E-4","nm":600,"v":0.077},{"L":"5.0E-4","nm":601,"v":0.083},{"L":"5.0E-4","nm":602,"v":0.088},{"L":"5.0E-4","nm":603,"v":0.091},{"L":"5.0E-4","nm":604,"v":0.093},{"L":"5.0E-4","nm":605,"v":0.094},{"L":"5.0E-4","nm":606,"v":0.095},{"L":"5.0E-4","nm":607,"v":0.097},{"L":"5.0E-4","nm":608,"v":0.099},{"L":"5.0E-4","nm":609,"v":0.102},{"L":"5.0E-4","nm":609.7,"v":0.106},{"L":"5.0E-4","nm":610.5,"v":0.114},{"L":"5.0E-4","nm":611.5,"v":0.134},{"L":"5.0E-4","nm":612.5,"v":0.168},{"L":"5.0E-4","nm":613.5,"v":0.225},{"L":"5.0E-4","nm":614.5,"v":0.31},{"L":"5.0E-4","nm":615.5,"v":0.43},{"L":"5.0E-4","nm":616.2,"v":0.59},{"L":"5.0E-4","nm":616.8,"v":0.82},{"L":"5.0E-4","nm":617.5,"v":1.0},{"L":"5.0E-4","nm":618.2,"v":0.925},{"L":"5.0E-4","nm":618.8,"v":0.8},{"L":"5.0E-4","nm":619.5,"v":0.625},{"L":"5.0E-4","nm":620.5,"v":0.465},{"L":"5.0E-4","nm":621.5,"v":0.33},{"L":"5.0E-4","nm":622.5,"v":0.215},{"L":"5.0E-4","nm":623.5,"v":0.15},{"L":"5.0E-4","nm":624.5,"v":0.085},{"L":"5.0E-4","nm":625.5,"v":0},{"L":"5.0E-4","nm":635,"v":0},

      {"L":"1.0E-3","nm":580,"v":0},{"L":"1.0E-3","nm":582.5,"v":0},{"L":"1.0E-3","nm":583.5,"v":0.003},{"L":"1.0E-3","nm":584.5,"v":0.005},{"L":"1.0E-3","nm":585.5,"v":0.007},{"L":"1.0E-3","nm":586.5,"v":0.009},{"L":"1.0E-3","nm":587.5,"v":0.01},{"L":"1.0E-3","nm":588.5,"v":0.012},{"L":"1.0E-3","nm":589.5,"v":0.014},{"L":"1.0E-3","nm":590.5,"v":0.016},{"L":"1.0E-3","nm":591.5,"v":0.018},{"L":"1.0E-3","nm":592.5,"v":0.021},{"L":"1.0E-3","nm":593.2,"v":0.023},{"L":"1.0E-3","nm":593.8,"v":0.025},{"L":"1.0E-3","nm":594.5,"v":0.027},{"L":"1.0E-3","nm":595.2,"v":0.03},{"L":"1.0E-3","nm":596,"v":0.035},{"L":"1.0E-3","nm":597,"v":0.045},{"L":"1.0E-3","nm":598,"v":0.057},{"L":"1.0E-3","nm":599,"v":0.067},{"L":"1.0E-3","nm":600,"v":0.076},{"L":"1.0E-3","nm":601,"v":0.082},{"L":"1.0E-3","nm":602,"v":0.087},{"L":"1.0E-3","nm":603,"v":0.09},{"L":"1.0E-3","nm":604,"v":0.092},{"L":"1.0E-3","nm":605,"v":0.093},{"L":"1.0E-3","nm":606,"v":0.094},{"L":"1.0E-3","nm":607,"v":0.096},{"L":"1.0E-3","nm":608,"v":0.098},{"L":"1.0E-3","nm":609,"v":0.1},{"L":"1.0E-3","nm":609.7,"v":0.104},{"L":"1.0E-3","nm":610.5,"v":0.112},{"L":"1.0E-3","nm":611.5,"v":0.132},{"L":"1.0E-3","nm":612.5,"v":0.165},{"L":"1.0E-3","nm":613.5,"v":0.222},{"L":"1.0E-3","nm":614.5,"v":0.305},{"L":"1.0E-3","nm":615.5,"v":0.424},{"L":"1.0E-3","nm":616.2,"v":0.581},{"L":"1.0E-3","nm":616.8,"v":0.808},{"L":"1.0E-3","nm":617.5,"v":0.985},{"L":"1.0E-3","nm":618.2,"v":0.911},{"L":"1.0E-3","nm":618.8,"v":0.788},{"L":"1.0E-3","nm":619.5,"v":0.616},{"L":"1.0E-3","nm":620.5,"v":0.458},{"L":"1.0E-3","nm":621.5,"v":0.325},{"L":"1.0E-3","nm":622.5,"v":0.212},{"L":"1.0E-3","nm":623.5,"v":0.148},{"L":"1.0E-3","nm":624.5,"v":0.084},{"L":"1.0E-3","nm":625.5,"v":0},{"L":"1.0E-3","nm":635,"v":0}
    ],
    "peaks": [
      {"label": "593.8 nm", "nm": 593.97, "v": 0.79},
      {"label": "600.1 nm", "nm": 601.43, "v": 0.564},
      {"label": "609.7 nm", "nm": 611.52, "v": 0.634},
      {"label": "617.5 nm", "nm": 613.15, "v": 0.991}
    ]
  },
  "layer": [
    {
      "data": {"name": "spectra"},
      "mark": {"type": "line", "strokeWidth": 2, "interpolate": "monotone", "clip": true},
      "encoding": {
        "x": {
          "field": "nm", "type": "quantitative",
          "scale": {"domain": [580, 635], "nice": false, "zero": false},
          "axis": {"orient": "bottom", "values": [580, 590, 600, 610, 620, 630], "tickSize": 10, "labelFontSize": 22, "labelPadding": 11, "title": "Wavelength [nm]", "titleFontSize": 27, "titlePadding": 7}
        },
        "y": {
          "field": "v", "type": "quantitative",
          "scale": {"domain": [-0.002, 1.028], "nice": false, "zero": false},
          "axis": {"orient": "left", "values": [0.0624, 0.2968, 0.5312, 0.7656, 1.0], "tickSize": 10, "labels": false, "title": "Normalized Intensity", "titleFontSize": 27, "titlePadding": 1}
        },
        "color": {
          "field": "L", "type": "nominal",
          "scale": {
            "domain": ["0", "9.9E-8", "1.6E-7", "2.6E-7", "3.9E-7", "6.4E-7", "1.0E-6", "1.6E-6", "2.5E-6", "3.1E-6", "5.0E-6", "8.0E-6", "1.3E-5", "2.0E-5", "3.8E-5", "6.5E-5", "1.3E-4", "5.0E-4", "1.0E-3"],
            "range": ["#000000", "#ff0000", "#0000ff", "#8f00ff", "#007000", "#000080", "#1010ff", "#3b1fbf", "#420808", "#3d4a0e", "#2358ea", "#168a5c", "#6a3212", "#2eff2e", "#8c139c", "#3cf7a2", "#0b22f5", "#4c9a10", "#3a4a4d"]
          },
          "legend": {
            "orient": "none", "legendX": 656, "legendY": 41,
            "title": "[Ligand]", "titleFontSize": 20, "titleFontWeight": "normal", "titleColor": "black", "titlePadding": 1.7,
            "labelFontSize": 20, "labelColor": "black", "labelOffset": 26,
            "symbolType": "M-1,0H3", "symbolSize": 576, "symbolStrokeWidth": 2.5,
            "rowPadding": 1.6, "padding": 0
          }
        }
      }
    },
    {
      "data": {"name": "peaks"},
      "mark": {"type": "text", "fontSize": 21, "align": "center", "baseline": "middle", "color": "black"},
      "encoding": {
        "x": {
          "field": "nm", "type": "quantitative",
          "scale": {"domain": [580, 635], "nice": false, "zero": false},
          "axis": {"orient": "bottom", "values": [585, 595, 605, 615, 625, 635], "tickSize": 5, "labels": false, "domain": false, "title": null}
        },
        "y": {
          "field": "v", "type": "quantitative",
          "scale": {"domain": [-0.002, 1.028], "nice": false, "zero": false},
          "axis": {"orient": "left", "values": [0.1796, 0.414, 0.6484, 0.8828], "tickSize": 5, "labels": false, "domain": false, "title": null}
        },
        "text": {"field": "label"}
      }
    }
  ],
  "resolve": {"axis": {"x": "independent", "y": "independent"}}
}
